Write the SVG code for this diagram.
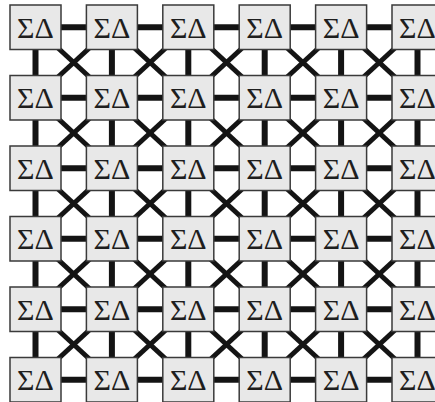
<svg xmlns="http://www.w3.org/2000/svg" width="435" height="402" viewBox="0 0 435 402">
<style>
.b{fill:#e8e8e8;stroke:#3a3a3a;stroke-width:1.5}
.t{font-family:"Liberation Serif","DejaVu Serif",serif;font-size:30px;fill:#1e1e1e;text-anchor:middle}
.c line{stroke:#141414;stroke-width:6}
.c .d{stroke-width:5}
</style>
<rect width="435" height="402" fill="#fff"/>
<g id="connectors" class="c">
<line x1="35.5" y1="27.25" x2="417.5" y2="27.25"/>
<line x1="35.5" y1="97.75" x2="417.5" y2="97.75"/>
<line x1="35.5" y1="168.25" x2="417.5" y2="168.25"/>
<line x1="35.5" y1="238.75" x2="417.5" y2="238.75"/>
<line x1="35.5" y1="309.25" x2="417.5" y2="309.25"/>
<line x1="35.5" y1="379.75" x2="417.5" y2="379.75"/>
<line x1="35.5" y1="27.25" x2="35.5" y2="379.75"/>
<line x1="111.9" y1="27.25" x2="111.9" y2="379.75"/>
<line x1="188.3" y1="27.25" x2="188.3" y2="379.75"/>
<line x1="264.7" y1="27.25" x2="264.7" y2="379.75"/>
<line x1="341.1" y1="27.25" x2="341.1" y2="379.75"/>
<line x1="417.5" y1="27.25" x2="417.5" y2="379.75"/>
<line class="d" x1="35.5" y1="27.25" x2="417.5" y2="379.75"/>
<line class="d" x1="111.9" y1="27.25" x2="417.5" y2="309.25"/>
<line class="d" x1="188.3" y1="27.25" x2="417.5" y2="238.75"/>
<line class="d" x1="264.7" y1="27.25" x2="417.5" y2="168.25"/>
<line class="d" x1="341.1" y1="27.25" x2="417.5" y2="97.75"/>
<line class="d" x1="35.5" y1="97.75" x2="341.1" y2="379.75"/>
<line class="d" x1="35.5" y1="168.25" x2="264.7" y2="379.75"/>
<line class="d" x1="35.5" y1="238.75" x2="188.3" y2="379.75"/>
<line class="d" x1="35.5" y1="309.25" x2="111.9" y2="379.75"/>
<line class="d" x1="417.5" y1="27.25" x2="35.5" y2="379.75"/>
<line class="d" x1="341.1" y1="27.25" x2="35.5" y2="309.25"/>
<line class="d" x1="264.7" y1="27.25" x2="35.5" y2="238.75"/>
<line class="d" x1="188.3" y1="27.25" x2="35.5" y2="168.25"/>
<line class="d" x1="111.9" y1="27.25" x2="35.5" y2="97.75"/>
<line class="d" x1="417.5" y1="97.75" x2="111.9" y2="379.75"/>
<line class="d" x1="417.5" y1="168.25" x2="188.3" y2="379.75"/>
<line class="d" x1="417.5" y1="238.75" x2="264.7" y2="379.75"/>
<line class="d" x1="417.5" y1="309.25" x2="341.1" y2="379.75"/>
</g>
<g id="n00"><rect class="b" x="10" y="5" width="51" height="44.5"/><text class="t" x="35.5" y="37.5">ΣΔ</text></g>
<g id="n01"><rect class="b" x="86.4" y="5" width="51" height="44.5"/><text class="t" x="111.9" y="37.5">ΣΔ</text></g>
<g id="n02"><rect class="b" x="162.8" y="5" width="51" height="44.5"/><text class="t" x="188.3" y="37.5">ΣΔ</text></g>
<g id="n03"><rect class="b" x="239.2" y="5" width="51" height="44.5"/><text class="t" x="264.7" y="37.5">ΣΔ</text></g>
<g id="n04"><rect class="b" x="315.6" y="5" width="51" height="44.5"/><text class="t" x="341.1" y="37.5">ΣΔ</text></g>
<g id="n05"><rect class="b" x="392" y="5" width="51" height="44.5"/><text class="t" x="417.5" y="37.5">ΣΔ</text></g>
<g id="n10"><rect class="b" x="10" y="75.5" width="51" height="44.5"/><text class="t" x="35.5" y="108">ΣΔ</text></g>
<g id="n11"><rect class="b" x="86.4" y="75.5" width="51" height="44.5"/><text class="t" x="111.9" y="108">ΣΔ</text></g>
<g id="n12"><rect class="b" x="162.8" y="75.5" width="51" height="44.5"/><text class="t" x="188.3" y="108">ΣΔ</text></g>
<g id="n13"><rect class="b" x="239.2" y="75.5" width="51" height="44.5"/><text class="t" x="264.7" y="108">ΣΔ</text></g>
<g id="n14"><rect class="b" x="315.6" y="75.5" width="51" height="44.5"/><text class="t" x="341.1" y="108">ΣΔ</text></g>
<g id="n15"><rect class="b" x="392" y="75.5" width="51" height="44.5"/><text class="t" x="417.5" y="108">ΣΔ</text></g>
<g id="n20"><rect class="b" x="10" y="146" width="51" height="44.5"/><text class="t" x="35.5" y="178.5">ΣΔ</text></g>
<g id="n21"><rect class="b" x="86.4" y="146" width="51" height="44.5"/><text class="t" x="111.9" y="178.5">ΣΔ</text></g>
<g id="n22"><rect class="b" x="162.8" y="146" width="51" height="44.5"/><text class="t" x="188.3" y="178.5">ΣΔ</text></g>
<g id="n23"><rect class="b" x="239.2" y="146" width="51" height="44.5"/><text class="t" x="264.7" y="178.5">ΣΔ</text></g>
<g id="n24"><rect class="b" x="315.6" y="146" width="51" height="44.5"/><text class="t" x="341.1" y="178.5">ΣΔ</text></g>
<g id="n25"><rect class="b" x="392" y="146" width="51" height="44.5"/><text class="t" x="417.5" y="178.5">ΣΔ</text></g>
<g id="n30"><rect class="b" x="10" y="216.5" width="51" height="44.5"/><text class="t" x="35.5" y="249">ΣΔ</text></g>
<g id="n31"><rect class="b" x="86.4" y="216.5" width="51" height="44.5"/><text class="t" x="111.9" y="249">ΣΔ</text></g>
<g id="n32"><rect class="b" x="162.8" y="216.5" width="51" height="44.5"/><text class="t" x="188.3" y="249">ΣΔ</text></g>
<g id="n33"><rect class="b" x="239.2" y="216.5" width="51" height="44.5"/><text class="t" x="264.7" y="249">ΣΔ</text></g>
<g id="n34"><rect class="b" x="315.6" y="216.5" width="51" height="44.5"/><text class="t" x="341.1" y="249">ΣΔ</text></g>
<g id="n35"><rect class="b" x="392" y="216.5" width="51" height="44.5"/><text class="t" x="417.5" y="249">ΣΔ</text></g>
<g id="n40"><rect class="b" x="10" y="287" width="51" height="44.5"/><text class="t" x="35.5" y="319.5">ΣΔ</text></g>
<g id="n41"><rect class="b" x="86.4" y="287" width="51" height="44.5"/><text class="t" x="111.9" y="319.5">ΣΔ</text></g>
<g id="n42"><rect class="b" x="162.8" y="287" width="51" height="44.5"/><text class="t" x="188.3" y="319.5">ΣΔ</text></g>
<g id="n43"><rect class="b" x="239.2" y="287" width="51" height="44.5"/><text class="t" x="264.7" y="319.5">ΣΔ</text></g>
<g id="n44"><rect class="b" x="315.6" y="287" width="51" height="44.5"/><text class="t" x="341.1" y="319.5">ΣΔ</text></g>
<g id="n45"><rect class="b" x="392" y="287" width="51" height="44.5"/><text class="t" x="417.5" y="319.5">ΣΔ</text></g>
<g id="n50"><rect class="b" x="10" y="357.5" width="51" height="44.5"/><text class="t" x="35.5" y="390">ΣΔ</text></g>
<g id="n51"><rect class="b" x="86.4" y="357.5" width="51" height="44.5"/><text class="t" x="111.9" y="390">ΣΔ</text></g>
<g id="n52"><rect class="b" x="162.8" y="357.5" width="51" height="44.5"/><text class="t" x="188.3" y="390">ΣΔ</text></g>
<g id="n53"><rect class="b" x="239.2" y="357.5" width="51" height="44.5"/><text class="t" x="264.7" y="390">ΣΔ</text></g>
<g id="n54"><rect class="b" x="315.6" y="357.5" width="51" height="44.5"/><text class="t" x="341.1" y="390">ΣΔ</text></g>
<g id="n55"><rect class="b" x="392" y="357.5" width="51" height="44.5"/><text class="t" x="417.5" y="390">ΣΔ</text></g>
</svg>
